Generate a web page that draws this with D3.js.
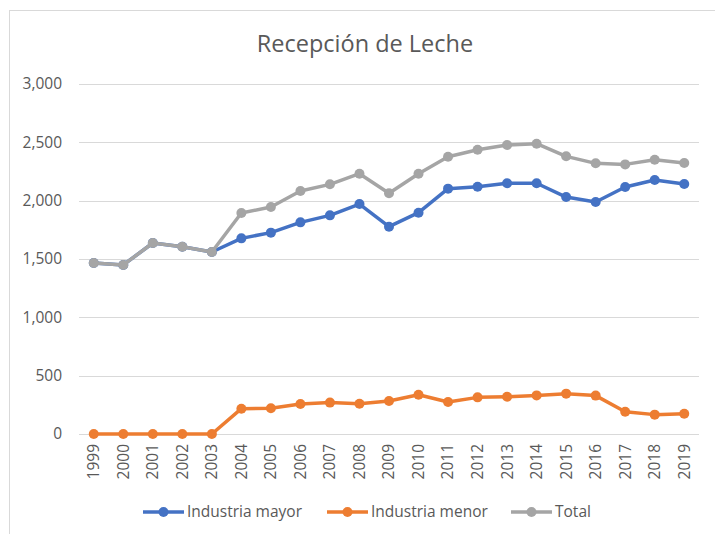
<!DOCTYPE html>
<html>
<head>
<meta charset="utf-8">
<script src="https://cdn.jsdelivr.net/npm/d3@7"></script>
<style>
	body { margin: 0; background: #fff; }
	svg { display: block; font-family: 'Open Sans', 'Noto Sans', sans-serif; }
</style>
</head>
<body>
<div id="chart"></div>
<script>
const years = ['1999', '2000', '2001', '2002', '2003', '2004', '2005', '2006', '2007', '2008',
	'2009', '2010', '2011', '2012', '2013', '2014', '2015', '2016', '2017', '2018', '2019'];
const industriaMayor = [1466, 1449, 1637, 1605, 1560, 1677, 1726, 1814, 1874, 1971,
	1777, 1897, 2103, 2120, 2149, 2149, 2031, 1989, 2117, 2177, 2143];
const industriaMenor = [0, 0, 0, 0, 0, 217, 220, 257, 269, 260,
	283, 337, 274, 314, 320, 331, 346, 329, 191, 166, 174];
const total = [1466, 1449, 1637, 1605, 1560, 1894, 1946, 2083, 2140, 2231,
	2063, 2231, 2377, 2437, 2477, 2488, 2380, 2320, 2311, 2351, 2323];
const yTicks = [0, 500, 1000, 1500, 2000, 2500, 3000];

const series = [
	{ name: 'Industria mayor', values: industriaMayor, color: '#4472C4' },
	{ name: 'Industria menor', values: industriaMenor, color: '#ED7D31' },
	{ name: 'Total', values: total, color: '#A5A5A5' },
];

const width = 715;
const height = 534;
const margin = { top: 84, right: 16, bottom: 100, left: 79 };
const chartWidth = width - margin.left - margin.right;
const chartHeight = height - margin.top - margin.bottom;

const svg = d3.select('#chart').append('svg')
	.attr('width', width)
	.attr('height', height);

// chart area frame (only top and left edges visible in the crop)
svg.append('rect')
	.attr('x', 9.5)
	.attr('y', 10.5)
	.attr('width', width + 20)
	.attr('height', height + 20)
	.attr('fill', 'none')
	.attr('stroke', '#d9d9d9');

svg.append('text')
	.attr('x', 365)
	.attr('y', 52)
	.attr('text-anchor', 'middle')
	.style('font-size', '23.5px')
	.style('fill', '#595959')
	.text('Recepción de Leche');

const g = svg.append('g').attr('transform', `translate(${margin.left},${margin.top})`);

const xScale = d3.scaleBand()
	.domain(years)
	.range([0, chartWidth]);

const yScale = d3.scaleLinear()
	.domain([0, 3000])
	.range([chartHeight, 0]);

g.append('g')
		.attr('class', 'grid')
	.selectAll('line')
		.data(yTicks)
	.enter().append('line')
		.attr('x1', 0)
		.attr('x2', chartWidth)
		.attr('y1', (d) => Math.round(yScale(d)) + 0.5)
		.attr('y2', (d) => Math.round(yScale(d)) + 0.5)
		.attr('stroke', '#d9d9d9')
		.attr('stroke-width', 1);

const yAxis = g.append('g')
	.call(d3.axisLeft(yScale).tickValues(yTicks).tickFormat(d3.format(',')).tickSize(0).tickPadding(17));
yAxis.select('.domain').remove();
yAxis.selectAll('text')
	.style('font-size', '15.5px')
	.style('font-family', "'Open Sans', sans-serif")
	.style('fill', '#595959');

const xAxis = g.append('g')
	.attr('transform', `translate(0,${chartHeight})`)
	.call(d3.axisBottom(xScale).tickSize(0));
xAxis.select('.domain').remove();
xAxis.selectAll('text')
	.attr('transform', 'rotate(-90)')
	.attr('x', -10)
	.attr('y', 0)
	.attr('dy', '0.35em')
	.style('text-anchor', 'end')
	.style('font-size', '15.5px')
	.style('font-family', "'Open Sans', sans-serif")
	.style('fill', '#595959');

const line = d3.line()
	.x((d, i) => xScale(years[i]) + xScale.bandwidth() / 2)
	.y((d) => yScale(d));

series.forEach((s) => {
	g.append('path')
		.datum(s.values)
		.attr('fill', 'none')
		.attr('stroke', s.color)
		.attr('stroke-width', 3.5)
		.attr('stroke-linejoin', 'round')
		.attr('d', line);

	g.selectAll(null)
			.data(s.values)
		.enter().append('circle')
			.attr('r', 5)
			.attr('cx', (d, i) => xScale(years[i]) + xScale.bandwidth() / 2)
			.attr('cy', (d) => yScale(d))
			.attr('fill', s.color);
});

// legend
const legendX = [143, 327, 511];
const legend = svg.append('g').attr('transform', 'translate(0,512)');
series.forEach((s, i) => {
	const lg = legend.append('g').attr('transform', `translate(${legendX[i]},0)`);
	lg.append('line')
		.attr('x1', 0)
		.attr('x2', 41)
		.attr('stroke', s.color)
		.attr('stroke-width', 3.5);
	lg.append('circle')
		.attr('cx', 20.5)
		.attr('r', 5)
		.attr('fill', s.color);
	lg.append('text')
		.attr('x', 44)
		.attr('dy', '0.35em')
		.style('font-size', '15.5px')
		.style('fill', '#595959')
		.text(s.name);
});
</script>
</body>
</html>
